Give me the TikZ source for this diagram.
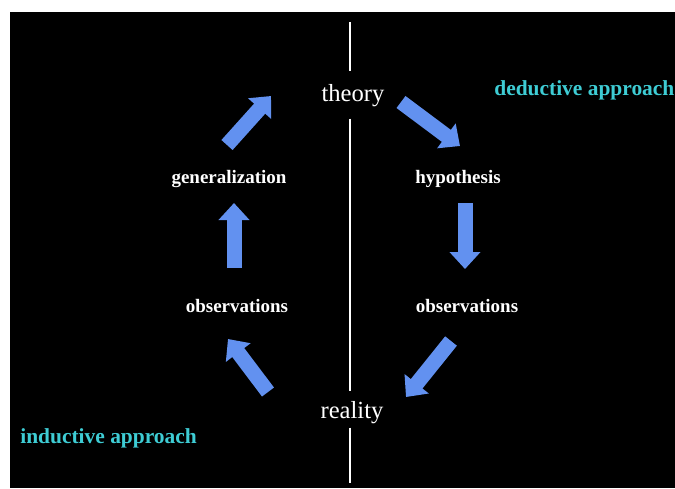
\documentclass[tikz,border=0pt]{standalone}
\usepackage{fontspec}
\setmainfont{Liberation Serif}
\usepackage{tikz}
\usetikzlibrary{arrows.meta,calc}

\definecolor{flow}{RGB}{98,145,240}
\definecolor{approach}{RGB}{62,204,212}

\begin{document}
\begin{tikzpicture}[
    x=0.02cm, y=-0.02cm,
    level/.style={text=white, font=\fontsize{14}{16}\selectfont, anchor=base, inner sep=0pt},
    stage/.style={text=white, font=\fontsize{10.8}{13}\selectfont\bfseries, anchor=base, inner sep=0pt},
    way/.style={text=approach, font=\fontsize{12.2}{14}\selectfont\bfseries, anchor=base west, inner sep=0pt},
    arrow/.style={draw=flow, line width=0.3cm, -{Triangle[width=0.6cm, length=0.34cm]}},
    divider/.style={draw=white, line width=0.05cm}
]

% Canvas
\useasboundingbox (0,0) rectangle (675,488);
\fill[white] (0,0) rectangle (675,488);
\fill[black] (10,12) rectangle (675,488);

% Levels
\node[level] (theory) at (353,101) {theory};
\node[level] (reality) at (352,418) {reality};

% Stages
\node[stage] (gen) at (229,183) {generalization};
\node[stage] (hyp) at (458,183) {hypothesis};
\node[stage] (obsL) at (237,312) {observations};
\node[stage] (obsR) at (467,312) {observations};

% Approaches
\node[way] (deduct) at (494,95) {deductive approach};
\node[way] (induct) at (20,443) {inductive approach};

% Divider
\coordinate (top) at (350,22);
\coordinate (bottom) at (350,483);
\draw[divider] (top) -- ($(theory.north -| top)+(0,-13)$);
\draw[divider] ($(theory.south -| top)+(0,12)$) -- ($(reality.north -| top)+(0,-10)$);
\draw[divider] ($(reality.south -| top)+(0,4)$) -- (bottom);

% Arrow ends
\coordinate (a1s) at (401,102);  \coordinate (a1e) at (460,146);
\coordinate (a2s) at (465,203);  \coordinate (a2e) at (465,269);
\coordinate (a3s) at (451,341);  \coordinate (a3e) at (406,397);
\coordinate (a4s) at (268,392);  \coordinate (a4e) at (228,339);
\coordinate (a5s) at (234,268);  \coordinate (a5e) at (234,203);
\coordinate (a6s) at (227,145);  \coordinate (a6e) at (271,96);

% Cycle
\draw[arrow] (a1s) -- (a1e);
\draw[arrow] (a2s) -- (a2e);
\draw[arrow] (a3s) -- (a3e);
\draw[arrow] (a4s) -- (a4e);
\draw[arrow] (a5s) -- (a5e);
\draw[arrow] (a6s) -- (a6e);

\end{tikzpicture}
\end{document}
